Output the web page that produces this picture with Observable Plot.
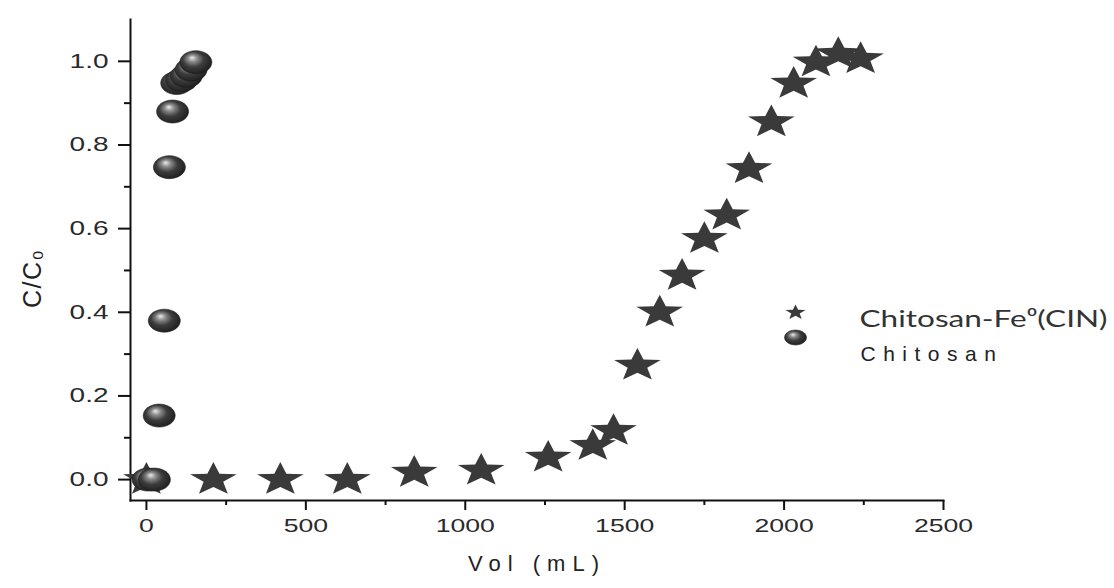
<!DOCTYPE html>
<html>
<head>
<meta charset="utf-8">
<script src="https://cdn.jsdelivr.net/npm/d3@7"></script>
<script src="https://cdn.jsdelivr.net/npm/@observablehq/plot@0.6"></script>
<style>
  html, body { margin: 0; padding: 0; background: #fff; }
  #chart { width: 1114px; height: 588px; }
</style>
</head>
<body>
<div id="chart"></div>
<script>
// Chitosan-Fe0 (CIN) series
const starVol = [0, 210, 420, 630, 840, 1050, 1260, 1400, 1465, 1540, 1610, 1680, 1750, 1820, 1890, 1960, 2030, 2100, 2170, 2240];
const starC   = [0, 0, 0, 0, 0.017, 0.022, 0.053, 0.081, 0.117, 0.273, 0.400, 0.488, 0.576, 0.632, 0.743, 0.855, 0.947, 0.998, 1.018, 1.006];
// Chitosan series
const chitVol = [5, 25, 40, 56, 72, 82, 95, 110, 125, 140, 155];
const chitC   = [0, 0, 0.153, 0.380, 0.747, 0.880, 0.948, 0.955, 0.965, 0.980, 0.998];
// ticks
const xTicks = [0, 500, 1000, 1500, 2000, 2500];
const xMinor = [250, 750, 1250, 1750, 2250];
const yTicks = [0, 0.2, 0.4, 0.6, 0.8, 1.0];
const yMinor = [0.1, 0.3, 0.5, 0.7, 0.9];
// text
const legendLabels = ["Chitosan-Fe\u2070(CIN)", "Chitosan"];
const xLabel = "Vol (mL)";
const yLabel = "C/C\u2080";

const stars = starVol.map((v, i) => ({vol: v, c: starC[i]}));
const chits = chitVol.map((v, i) => ({vol: v, c: chitC[i]}));

function starSymbol(rx, ry) {
  return {draw(ctx) {
    const ri = 0.42;
    for (let i = 0; i < 10; i++) {
      const a = -Math.PI / 2 + i * Math.PI / 5;
      const r = i % 2 ? ri : 1;
      const px = Math.cos(a) * r * rx, py = Math.sin(a) * r * ry;
      if (i) ctx.lineTo(px, py); else ctx.moveTo(px, py);
    }
    ctx.closePath();
  }};
}
function ellipseSymbol(rx, ry) {
  return {draw(ctx) {
    const k = 0.5523;
    ctx.moveTo(rx, 0);
    ctx.bezierCurveTo(rx, k * ry, k * rx, ry, 0, ry);
    ctx.bezierCurveTo(-k * rx, ry, -rx, k * ry, -rx, 0);
    ctx.bezierCurveTo(-rx, -k * ry, -k * rx, -ry, 0, -ry);
    ctx.bezierCurveTo(k * rx, -ry, rx, -k * ry, rx, 0);
    ctx.closePath();
  }};
}

const starColor = "#3a3a3a";

const svg = Plot.plot({
  width: 1114,
  height: 588,
  marginLeft: 130,
  marginRight: 171,
  marginTop: 19,
  marginBottom: 88,
  style: {fontFamily: "'Liberation Sans', Arial, sans-serif", background: "#fff", color: "#000"},
  x: {domain: [-50, 2500]},
  y: {domain: [-0.05, 1.1]},
  marks: [
    Plot.frame({anchor: "left", stroke: "#111", strokeWidth: 2}),
    Plot.frame({anchor: "bottom", stroke: "#111", strokeWidth: 2}),
    Plot.axisX({ticks: xTicks, tickSize: 10, tickPadding: 8, tickFormat: d => String(d), fontSize: 19, strokeWidth: 2, stroke: "#111", fill: "#2a2a2a", label: null}),
    Plot.axisX({ticks: xMinor, tickSize: 5, strokeWidth: 2, stroke: "#111", fill: "none", label: null}),
    Plot.axisY({ticks: yTicks, tickSize: 12, tickPadding: 10, tickFormat: d3.format(".1f"), fontSize: 20, strokeWidth: 2, stroke: "#111", fill: "#2a2a2a", label: null}),
    Plot.axisY({ticks: yMinor, tickSize: 6, strokeWidth: 2, stroke: "#111", fill: "none", label: null}),
    Plot.text([xLabel], {text: d => d, frameAnchor: "bottom", dy: 70, fontSize: 22, fill: "#222"}),
    Plot.text([yLabel], {text: d => d, frameAnchor: "left", rotate: -90, dx: -98, dy: 48, fontSize: 25, fill: "#222"}),
    Plot.dot(stars, {x: "vol", y: "c", symbol: starSymbol(24.5, 17.5), fill: starColor, stroke: "none"}),
    Plot.dot(chits, {x: "vol", y: "c", symbol: ellipseSymbol(16, 11.5), fill: "url(#ballGrad)", stroke: "#1e1e1e", strokeWidth: 0.6}),
    // legend
    Plot.dot([legendLabels[0]], {frameAnchor: "top-left", dx: 665, dy: 293, symbol: starSymbol(10.5, 8), fill: starColor, stroke: "none"}),
    Plot.dot([legendLabels[1]], {frameAnchor: "top-left", dx: 665, dy: 318, symbol: ellipseSymbol(11, 7.5), fill: "url(#ballGrad)", stroke: "#1e1e1e", strokeWidth: 0.5}),
    Plot.text([legendLabels[0]], {text: d => d, frameAnchor: "top-left", dx: 729, dy: 290, textAnchor: "start", fontSize: 24, fontFamily: "Lato, 'Open Sans', sans-serif", fill: "#333"}),
    Plot.text([legendLabels[1]], {text: d => d, frameAnchor: "top-left", dx: 730, dy: 327, textAnchor: "start", fontSize: 21, fill: "#222"})
  ]
});

// gradient for the shaded chitosan markers
const defs = d3.select(svg).insert("defs", ":first-child");
const g = defs.append("radialGradient").attr("id", "ballGrad")
  .attr("cx", "0.45").attr("cy", "0.45").attr("r", "0.6").attr("fx", "0.38").attr("fy", "0.3");
g.append("stop").attr("offset", "0").attr("stop-color", "#ececec");
g.append("stop").attr("offset", "0.25").attr("stop-color", "#8a8a8a");
g.append("stop").attr("offset", "0.55").attr("stop-color", "#3c3c3c");
g.append("stop").attr("offset", "1").attr("stop-color", "#1c1c1c");

document.getElementById("chart").appendChild(svg);

// horizontal stretch / spacing of texts, mimicking the source figure
const root = d3.select(svg);
root.selectAll('g[aria-label="x-axis tick label"] text, g[aria-label="y-axis tick label"] text').each(function() {
  const w = this.getComputedTextLength();
  this.setAttribute("textLength", (w * 1.4).toFixed(1));
  this.setAttribute("lengthAdjust", "spacingAndGlyphs");
});
root.selectAll("text").each(function() {
  const t = this.textContent;
  if (t === legendLabels[0]) {
    this.setAttribute("textLength", "248");
    this.setAttribute("lengthAdjust", "spacingAndGlyphs");
  } else if (t === legendLabels[1]) {
    this.style.letterSpacing = "7.5px";
  } else if (t === xLabel) {
    this.style.letterSpacing = "7px";
  } else if (t === yLabel) {
    this.style.letterSpacing = "1.5px";
  }
});
</script>
</body>
</html>
